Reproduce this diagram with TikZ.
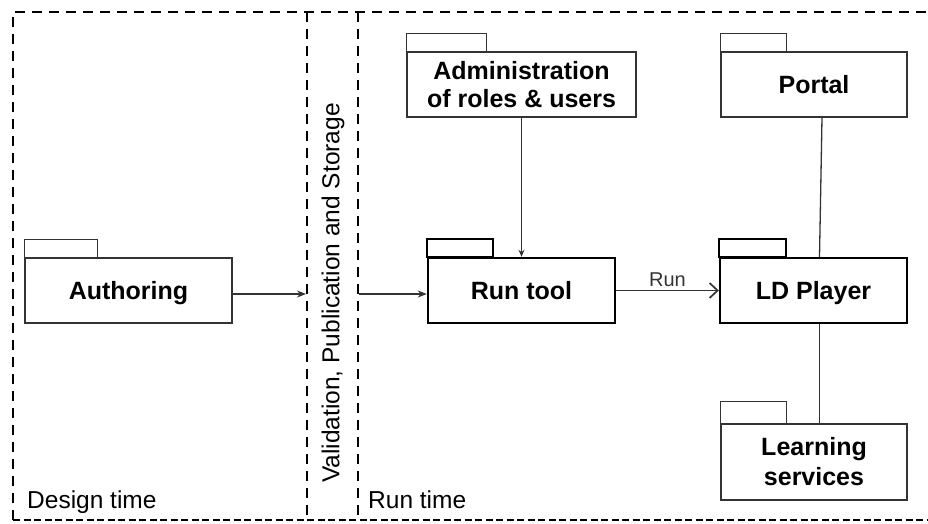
\documentclass[tikz,border=0pt]{standalone}
\usepackage{fontspec}
\setmainfont{Liberation Sans}
\usetikzlibrary{arrows.meta}
\definecolor{ln}{HTML}{333333}
\tikzset{
  frame/.style={draw=black, line width=2.2pt, dash pattern=on 10pt off 7pt},
  framebot/.style={draw=black, line width=2.2pt, dash pattern=on 7pt off 3.5pt},
  pkg/.style={draw=ln, line width=1.4pt, inner sep=0pt, align=center, font=\fontsize{25}{29}\selectfont\bfseries},
  pkgb/.style={pkg, draw=black, line width=2.4pt},
  one/.style={text height=18pt, text depth=0pt},
  conn/.style={draw=ln, line width=1.3pt},
  lbl/.style={font=\fontsize{24.5}{29}\selectfont, inner sep=0pt}
}
\begin{document}
\begin{tikzpicture}[x=1pt,y=-1pt]
\useasboundingbox (0,0) rectangle (928,523);
% frames
\draw[frame] (13,520) -- (13,12) -- (928,12);
\draw[framebot] (13,520) -- (928,520);
\draw[frame] (307,12) -- (307,520);
\draw[frame] (358,12) -- (358,520);
% labels of regions
\node[lbl, anchor=base west] (dt) at (27,508) {Design time};
\node[lbl, anchor=base west] (rt) at (368,508) {Run time};
\node[lbl, rotate=90] (vps) at (333,293) {Validation, Publication and Storage};
% packages
\node[pkg, one, minimum width=207pt, minimum height=65pt] (auth) at (128.5,290.5) {Authoring};
\node[pkgb, one, minimum width=187pt, minimum height=65pt] (run) at (521.5,290.5) {Run tool};
\node[pkgb, one, minimum width=187pt, minimum height=65pt] (ld) at (813.5,290.5) {LD Player};
\node[pkg, one, minimum width=186pt, minimum height=65pt] (portal) at (814,84.5) {Portal};
\node[pkg, minimum width=229pt, minimum height=65pt] (admin) at (521.5,84.5) {Administration\\[-1pt]of roles \& users};
\node[pkg, minimum width=186pt, minimum height=76pt] (learn) at (814,462) {Learning\\[1pt]services};
% tabs
\draw[draw=ln, line width=1.4pt] (auth.north west) rectangle ++(73,-18);
\draw[draw=black, line width=2.4pt] (run.north west) rectangle ++(66,-18);
\draw[draw=black, line width=2.4pt] (ld.north west) rectangle ++(67,-18);
\draw[draw=ln, line width=1.4pt] (portal.north west) rectangle ++(66,-18);
\draw[draw=ln, line width=1.4pt] (admin.north west) rectangle ++(80,-18);
\draw[draw=ln, line width=1.4pt] (learn.north west) rectangle ++(66,-22);
% connectors
\coordinate (d1) at (306,294);
\coordinate (d2) at (359,294);
\draw[conn, -{Stealth[length=9pt,width=7pt]}] (auth.east |- d1) -- (d1);
\draw[conn, -{Stealth[length=9pt,width=7pt]}] (d2) -- (run.west |- d2);
\draw[conn, line width=1.7pt, -{Straight Barb[length=8pt,width=15pt,line width=1.7pt]}] (run.east) -- node[above=3pt, font=\fontsize{20}{24}\selectfont, text=ln, inner sep=0pt] {Run} (ld.west);
\draw[conn, -{Stealth[length=7pt,width=6pt]}] (admin.south) -- (run.north);
\draw[conn] ([xshift=8pt]portal.south) -- ([xshift=6pt]ld.north);
\draw[conn] ([xshift=6pt]ld.south) -- ([xshift=6pt]ld.south |- learn.north);
\end{tikzpicture}
\end{document}
